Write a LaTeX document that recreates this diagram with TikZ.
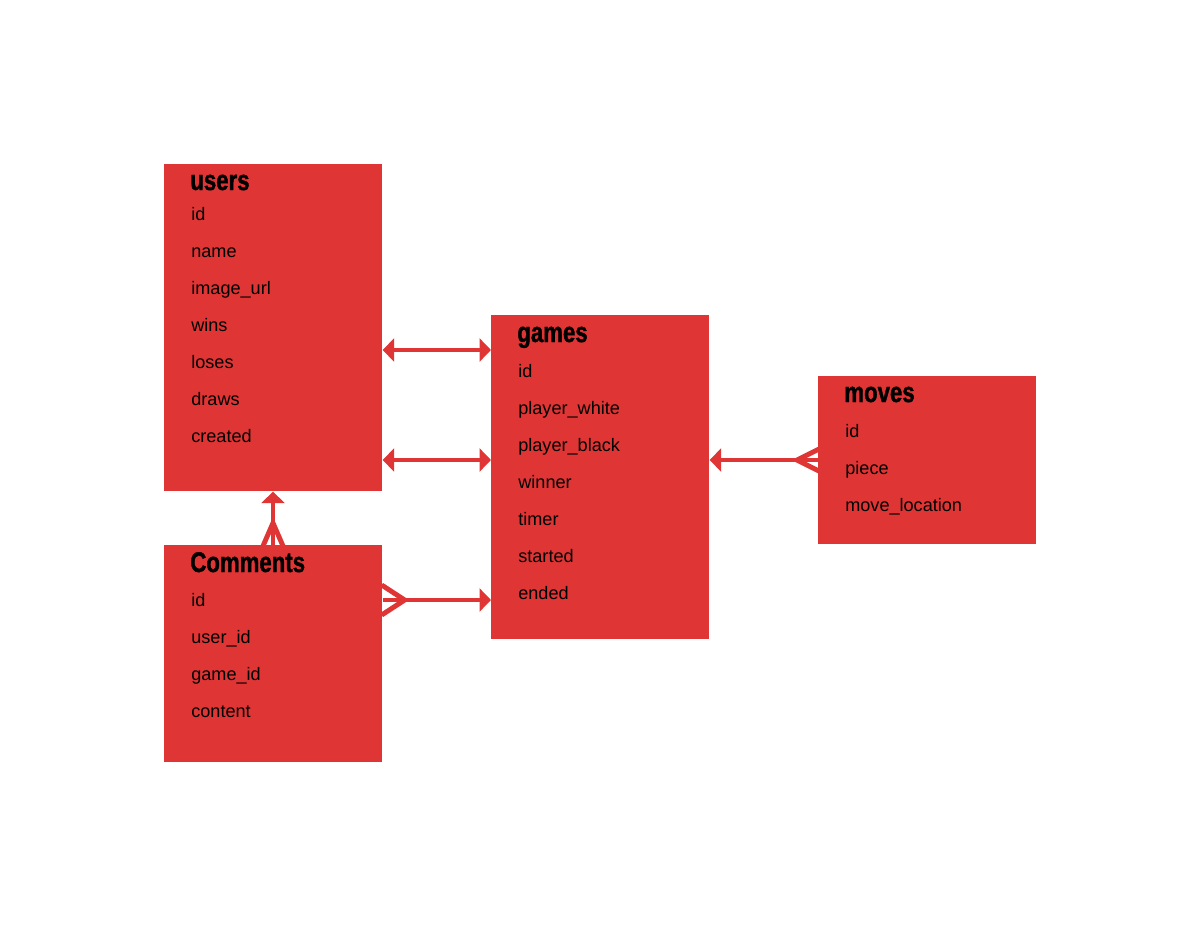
\documentclass[tikz,border=0pt]{standalone}
\usepackage{fontspec}
\setmainfont{Liberation Sans}
\newfontfamily\headfont{Liberation Sans}[FakeStretch=0.78,BoldFeatures={FakeBold=1.2}]
\usetikzlibrary{arrows.meta,calc}
\definecolor{TblClr}{RGB}{224,53,53}

\begin{document}
\begin{tikzpicture}[x=0.02cm,y=-0.02cm,
  tbl/.style={fill=TblClr,draw=none,anchor=north west,inner sep=0,minimum width=4.36cm},
  head/.style={anchor=base west,inner sep=0,font=\headfont\bfseries\fontsize{16.2}{18}\selectfont},
  field/.style={anchor=base west,inner sep=0,font=\fontsize{10.3}{12}\selectfont},
  rel/.style={draw=TblClr,line width=2.8pt},
  tip/.style={-{Triangle[length=6.5pt,width=13pt]}},
  tips/.style={{Triangle[length=6.5pt,width=13pt]}-{Triangle[length=6.5pt,width=13pt]}}]
\useasboundingbox (0,0) rectangle (1200,927);

% tables
\node[tbl,minimum height=6.54cm] (users) at (164,164) {};
\node[tbl,minimum height=6.48cm] (games) at (491,315) {};
\node[tbl,minimum height=3.36cm] (moves) at (818,376) {};
\node[tbl,minimum height=4.34cm] (comments) at (164,545) {};

\node[head] (usersT) at (190,190) {users};
\node[head] (gamesT) at (517,342) {games};
\node[head] (movesT) at (844,402) {moves};
\node[head] (commentsT) at (190,572) {Comments};

\foreach \f [count=\i] in {id,name,image\_url,wins,loses,draws,created}
  \node[field] (u\i) at (191,183+37*\i) {\f};
\foreach \f [count=\i] in {id,player\_white,player\_black,winner,timer,started,ended}
  \node[field] (g\i) at (518,340+37*\i) {\f};
\foreach \f [count=\i] in {id,piece,move\_location}
  \node[field] (m\i) at (845,400+37*\i) {\f};
\foreach \f [count=\i] in {id,user\_id,game\_id,content}
  \node[field] (c\i) at (191,569+37*\i) {\f};

% relations
\draw[rel,tips] (users.east |- 0,350) -- (games.west |- 0,350);
\draw[rel,tips] (users.east |- 0,460) -- (games.west |- 0,460);

\draw[rel,tip] (moves.west |- 0,460) -- (games.east |- 0,460);
\coordinate (mFork) at ($(moves.west |- 0,460)+(-21,0)$);
\draw[rel] ($(moves.west |- 0,460)+(1,-11)$) -- (mFork) -- ($(moves.west |- 0,460)+(1,11)$);

\draw[rel,tip] (comments.east |- 0,600) -- (games.west |- 0,600);
\coordinate (cFork) at ($(comments.east |- 0,600)+(22,0)$);
\draw[rel] ($(comments.east |- 0,600)+(-1,-15)$) -- (cFork) -- ($(comments.east |- 0,600)+(-1,15)$);

\draw[rel,tip] (comments.north -| 0,0) ++(273,0) coordinate (cTop) -- (users.south -| cTop);
\coordinate (uFork) at ($(cTop)+(0,-22)$);
\draw[rel] ($(cTop)+(-10,1)$) -- (uFork) -- ($(cTop)+(10,1)$);

\end{tikzpicture}
\end{document}
